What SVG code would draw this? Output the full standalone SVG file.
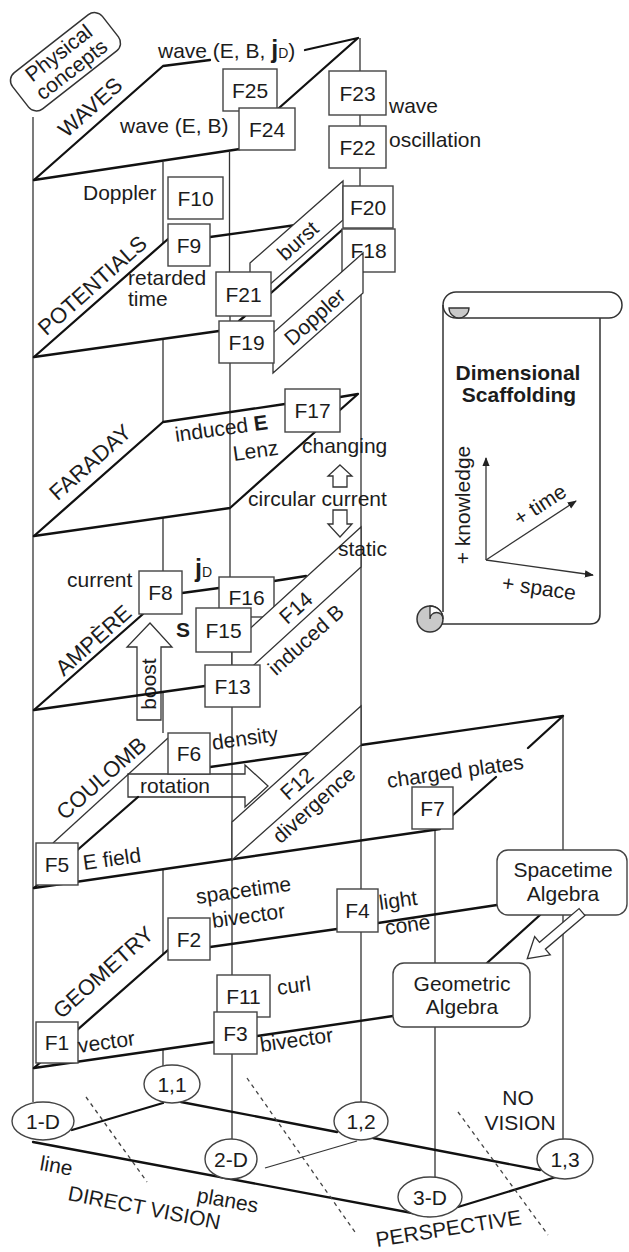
<svg xmlns="http://www.w3.org/2000/svg" width="629" height="1252" viewBox="0 0 629 1252">
<defs>
<style>
text{font-family:"Liberation Sans",Arial,sans-serif;font-size:21px;fill:#1c1c1c}
.c{text-anchor:middle}
.pl{font-size:22px;text-anchor:middle}
.b{font-weight:bold}
.post{stroke:#333;stroke-width:1.3;fill:none}
.edge{stroke:#111;stroke-width:2.3;fill:none;stroke-linecap:round;stroke-linejoin:round}
.thin{stroke:#333;stroke-width:1.3;fill:none}
.dash{stroke:#444;stroke-width:1.3;stroke-dasharray:4 4;fill:none}
.box{fill:#fff;stroke:#444;stroke-width:1.4}
.band{fill:#fff;stroke:#333;stroke-width:1.3}
.harrow{fill:#fff;stroke:#333;stroke-width:1.3}
.scr{fill:none;stroke:#333;stroke-width:1.5}
</style>
<marker id="ah" viewBox="0 0 10 10" refX="9" refY="5" markerWidth="7" markerHeight="7" orient="auto"><path d="M0,1 L10,5 L0,9 Z" fill="#222"/></marker>
</defs>
<rect width="629" height="1252" fill="#fff"/>

<!-- hollow arrows drawn beneath lines -->
<g id="boost-arrow">
<polygon class="harrow" points="150,623 172,647 161,647 161,720 137,720 137,647 127,647"/>
<text class="c" transform="translate(149,684) rotate(-90)" y="7">boost</text>
</g>
<g id="rotation-arrow">
<polygon class="harrow" points="128,774 245,774 245,765 268,786 245,807 245,797 128,797"/>
<text x="140" y="793">rotation</text>
</g>

<g id="connectors">
<!-- posts -->
<path class="post" d="M33,117 V1102"/>
<path class="post" d="M163,162 V243 M163,339 V422 M163,518 V571 M163,692 V733 M163,870 V954 M163,1050 V1066"/>
<path class="post" d="M229.5,152 V272 M230,316 V321 M230,363 V577 M232,652 V665 M232,707 V975 M232,1054 V1139"/>
<path class="post" d="M360,38 V71 M360,115 V126 M360,168 V186 M361,293 V1102"/>
<path class="post" d="M435,829 V963 M435,1027 V1177"/>
<path class="post" d="M563,717 V850 M563,915 V1139"/>
<!-- WAVES -->
<path class="edge" d="M34,180 L163,66 L210,60"/>
<path class="edge" d="M305,50 L358,38 L279,108"/>
<path class="edge" d="M34,180 L240,149"/>
<!-- POTENTIALS -->
<path class="edge" d="M34,357 L168,239"/>
<path class="edge" d="M210,237 L296,225"/>
<path class="edge" d="M342,230 L271,293"/>
<path class="edge" d="M245,316 L239,321"/>
<path class="edge" d="M34,357 L219,331"/>
<!-- FARADAY -->
<path class="edge" d="M34,536 L163,422 L285,404"/>
<path class="edge" d="M340,397 L358,394 L340,410"/>
<path class="edge" d="M315,432 L230,508 L34,536"/>
<!-- AMPERE -->
<path class="edge" d="M34,710 L143,614"/>
<path class="edge" d="M182,593 L219,588"/>
<path class="edge" d="M274,581 L306,576"/>
<path class="edge" d="M34,710 L205,686"/>
<!-- COULOMB -->
<path class="edge" d="M34,888 L138,797"/>
<path class="thin" d="M53,843 L168,738"/>
<path class="edge" d="M210,767 L309,753"/>
<path class="edge" d="M361,745 L563,716 L528,748"/>
<path class="edge" d="M496,777 L453,815"/>
<path class="edge" d="M34,888 L440,829"/>
<!-- GEOMETRY -->
<path class="edge" d="M34,1068 L168,950"/>
<path class="edge" d="M210,947 L337,929"/>
<path class="edge" d="M378,923 L497,905"/>
<path class="edge" d="M540,915 L487,963"/>
<path class="edge" d="M34,1068 L214,1042"/>
<path class="edge" d="M257,1036 L393,1016"/>
<!-- base network -->
<path class="edge" d="M72,1130 L163,1103"/>
<path class="edge" d="M181,1102 L337,1132"/>
<path class="edge" d="M373,1138 L540,1170"/>
<path class="edge" d="M33,1142 L428,1216"/>
<path class="edge" d="M458,1207 L556,1177"/>
<path class="thin" d="M265,1168 L357,1141"/>
<path class="dash" d="M86,1097 L147,1182"/>
<path class="dash" d="M247,1078 L357,1235"/>
<path class="dash" d="M458,1112 L548,1235"/>
</g>

<g id="physical-concepts" transform="translate(65.5,61.75) rotate(-38)">
<rect x="-57" y="-23" width="114" height="46" rx="10" fill="#fff" stroke="#333" stroke-width="1.5"/>
<text class="c" y="-4">Physical</text>
<text class="c" y="17">concepts</text>
</g>

<g id="plane-labels">
<text class="pl" transform="translate(90,107) rotate(-41.7)" y="8">WAVES</text>
<text class="pl" transform="translate(92,285) rotate(-41.7)" y="8">POTENTIALS</text>
<text class="pl" transform="translate(90,462) rotate(-41.7)" y="8">FARADAY</text>
<text class="pl" transform="translate(93,640) rotate(-41.7)" y="8">AMPÈRE</text>
<text class="pl" transform="translate(101,778) rotate(-41.7)" y="8">COULOMB</text>
<text class="pl" transform="translate(103,972) rotate(-41.7)" y="8">GEOMETRY</text>
</g>

<g id="F25"><rect class="box" x="223" y="69" width="54" height="42"/><text class="c" x="250" y="97.5">F25</text></g>
<g id="F24"><rect class="box" x="239" y="108" width="56" height="42"/><text class="c" x="267" y="136.5">F24</text></g>
<g id="F23"><rect class="box" x="329" y="71" width="57" height="44"/><text class="c" x="357.5" y="100.5">F23</text></g>
<g id="F22"><rect class="box" x="329" y="126" width="57" height="42"/><text class="c" x="357.5" y="154.5">F22</text></g>
<g id="F10"><rect class="box" x="168" y="177" width="55" height="42"/><text class="c" x="195.5" y="205.5">F10</text></g>
<g id="F9"><rect class="box" x="168" y="224" width="42" height="42"/><text class="c" x="189" y="252.5">F9</text></g>

<g id="burst-band"><polygon class="band" points="250,263 343,181 343,220 250,302"/>
<text class="c" transform="translate(298,241) rotate(-42)" y="7">burst</text></g>
<g id="F20"><rect class="box" x="343" y="186" width="50" height="42"/><text class="c" x="368" y="214.5">F20</text></g>
<g id="F18"><rect class="box" x="342" y="229" width="53" height="43"/><text class="c" x="368.5" y="258">F18</text></g>
<g id="doppler-band"><polygon class="band" points="273,333 363,253 363,293 273,373"/>
<text class="c" transform="translate(315,317) rotate(-42)" y="7">Doppler</text></g>
<g id="F21"><rect class="box" x="216" y="272" width="55" height="44"/><text class="c" x="243.5" y="301.5">F21</text></g>
<g id="F19"><rect class="box" x="219" y="321" width="55" height="42"/><text class="c" x="246.5" y="349.5">F19</text></g>
<g id="F17"><rect class="box" x="285" y="389" width="55" height="43"/><text class="c" x="312.5" y="418">F17</text></g>

<g id="faraday-arrows">
<polygon class="harrow" points="340,465 352,476 347,476 347,487 333,487 333,476 328,476"/>
<polygon class="harrow" points="333,510 347,510 347,524 352,524 340,537 328,524 333,524"/>
</g>

<g id="F8"><rect class="box" x="139" y="571" width="43" height="43"/><text class="c" x="160.5" y="600">F8</text></g>
<g id="F16"><rect class="box" x="219" y="577" width="55" height="40"/><text class="c" x="246.5" y="604.5">F16</text></g>
<g id="F14-band"><polygon class="band" points="232,645 361,527 361,567 232,685"/>
<text class="c" transform="translate(296,608) rotate(-42)" y="7">F14</text></g>
<g id="F15"><rect class="box" x="196" y="608" width="55" height="44"/><text class="c" x="223.5" y="637.5">F15</text></g>
<g id="F13"><rect class="box" x="205" y="665" width="55" height="42"/><text class="c" x="232.5" y="693.5">F13</text></g>
<g id="F6"><rect class="box" x="168" y="733" width="42" height="41"/><text class="c" x="189" y="761">F6</text></g>
<g id="F12-band"><polygon class="band" points="232,822 361,706 361,745 232,860"/>
<text class="c" transform="translate(297,784) rotate(-42)" y="7">F12</text></g>
<g id="F5"><rect class="box" x="36" y="843" width="42" height="42"/><text class="c" x="57" y="871.5">F5</text></g>
<g id="F7"><rect class="box" x="412" y="787" width="41" height="42"/><text class="c" x="432.5" y="815.5">F7</text></g>
<g id="F4"><rect class="box" x="337" y="889" width="41" height="43"/><text class="c" x="357.5" y="918">F4</text></g>
<g id="spacetime-algebra"><rect class="box" x="497" y="850" width="130" height="65" rx="11"/>
<text class="c" x="563" y="877">Spacetime</text><text class="c" x="563" y="901">Algebra</text></g>
<g id="geometric-algebra"><rect class="box" x="393" y="963" width="137" height="64" rx="11"/>
<text class="c" x="462" y="991">Geometric</text><text class="c" x="462" y="1014">Algebra</text></g>
<g id="sta-ga-arrow">
<polygon class="harrow" transform="translate(582,912) rotate(139.5)" points="0,-4.5 52,-4.5 52,-12 72,0 52,12 52,4.5 0,4.5"/>
</g>
<g id="F2"><rect class="box" x="168" y="918" width="42" height="42"/><text class="c" x="189" y="946.5">F2</text></g>
<g id="F11"><rect class="box" x="217" y="975" width="53" height="42"/><text class="c" x="243.5" y="1003.5">F11</text></g>
<g id="F3"><rect class="box" x="214" y="1012" width="43" height="42"/><text class="c" x="235.5" y="1040.5">F3</text></g>
<g id="F1"><rect class="box" x="36" y="1022" width="42" height="41"/><text class="c" x="57" y="1050">F1</text></g>

<g id="base-nodes">
<g id="n1D"><ellipse class="box" cx="43" cy="1121" rx="31" ry="19"/><text class="c" x="43" y="1128.5">1-D</text></g>
<g id="n11"><ellipse class="box" cx="172" cy="1084" rx="28" ry="19"/><text class="c" x="172" y="1091.5">1,1</text></g>
<g id="n2D"><ellipse class="box" cx="231" cy="1159" rx="26" ry="20"/><text class="c" x="231" y="1166.5">2-D</text></g>
<g id="n12"><ellipse class="box" cx="361" cy="1121" rx="27" ry="19"/><text class="c" x="361" y="1128.5">1,2</text></g>
<g id="n3D"><ellipse class="box" cx="430" cy="1197" rx="32" ry="20"/><text class="c" x="430" y="1204.5">3-D</text></g>
<g id="n13"><ellipse class="box" cx="565" cy="1159" rx="28" ry="20"/><text class="c" x="565" y="1166.5">1,3</text></g>
</g>

<g id="labels">
<text x="158" y="58">wave (E, B, <tspan class="b" font-size="25">j</tspan><tspan font-size="14">D</tspan>)</text>
<text x="120" y="133">wave (E, B)</text>
<text x="389" y="113">wave</text>
<text x="389" y="147">oscillation</text>
<text x="83" y="200">Doppler</text>
<text x="128" y="285">retarded</text>
<text x="128" y="306">time</text>
<text x="176" y="442" transform="rotate(-8,176,442)">induced <tspan class="b">E</tspan></text>
<text x="234" y="461" transform="rotate(-8,234,461)">Lenz</text>
<text x="302" y="453">changing</text>
<text x="248" y="506">circular current</text>
<text x="338" y="556">static</text>
<text x="67" y="587">current</text>
<text x="195" y="577"><tspan class="b" font-size="25">j</tspan><tspan font-size="14">D</tspan></text>
<text class="b" x="176" y="637">S</text>
<text class="c" transform="translate(306,640) rotate(-42)" y="7">induced B</text>
<text x="213" y="750" transform="rotate(-8,213,750)">density</text>
<text class="c" transform="translate(314,805) rotate(-42)" y="7">divergence</text>
<text x="84" y="870" transform="rotate(-8,84,870)">E field</text>
<text x="388" y="788" transform="rotate(-8,388,788)">charged plates</text>
<text x="197" y="904" transform="rotate(-8,197,904)">spacetime</text>
<text x="213" y="928" transform="rotate(-8,213,928)">bivector</text>
<text x="380" y="910" transform="rotate(-8,380,910)">light</text>
<text x="386" y="935" transform="rotate(-8,386,935)">cone</text>
<text x="278" y="995" transform="rotate(-8,278,995)">curl</text>
<text x="79" y="1053" transform="rotate(-8,79,1053)">vector</text>
<text x="261" y="1052" transform="rotate(-8,261,1052)">bivector</text>
<text class="c" x="518" y="1105">NO</text>
<text class="c" x="520" y="1130">VISION</text>
<text x="39" y="1170" transform="rotate(10,39,1170)">line</text>
<text x="67" y="1200" transform="rotate(11,67,1200)">DIRECT VISION</text>
<text x="196" y="1202" transform="rotate(10,196,1202)">planes</text>
<text x="377" y="1247" transform="rotate(-9,377,1247)">PERSPECTIVE</text>
</g>

<g id="scroll">
<path class="scr" d="M443,305 L443,612"/>
<path class="scr" d="M436,624 L590,624 Q600,624 600,614 L600,318"/>
<path class="scr" fill="#fff" d="M456,292 H609 A13,13 0 0 1 609,318 H456 A13,13 0 0 1 456,292 Z"/>
<path d="M449,308 A10,10 0 0 0 469,308 Z" fill="#c9c9c9" stroke="#333" stroke-width="1.3"/>
<circle cx="430" cy="619" r="13" fill="#c9c9c9" stroke="#333" stroke-width="1.5"/>
<path d="M430,606 A13,13 0 0 1 443,619 A6.5,6.5 0 0 0 430,619 Z" fill="#fff" stroke="#333" stroke-width="1.3"/>
<text class="c b" x="518" y="380">Dimensional</text>
<text class="c b" x="519" y="402">Scaffolding</text>
<path class="thin" marker-end="url(#ah)" d="M486,560 V458"/>
<path class="thin" marker-end="url(#ah)" d="M486,560 L576,501"/>
<path class="thin" marker-end="url(#ah)" d="M486,560 L593,575"/>
<text class="c" transform="translate(463,505) rotate(-90)" y="7">+ knowledge</text>
<text class="c" transform="translate(540,505) rotate(-33)" y="7">+ time</text>
<text class="c" transform="translate(539,588) rotate(8)" y="7">+ space</text>
</g>
</svg>
